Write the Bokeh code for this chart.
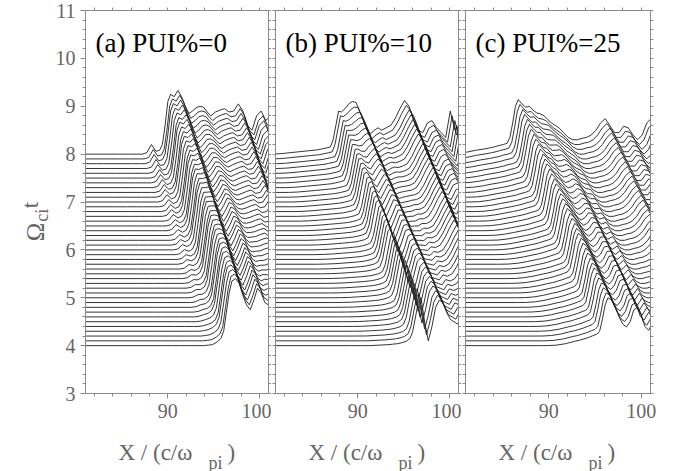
from bokeh.plotting import figure
from bokeh.layouts import row, column
from bokeh.models import FixedTicker, LinearAxis, Label, Range1d
from bokeh.embed import file_html
from bokeh.resources import INLINE
import math

# ---- data ----
times = [4.0, 4.1, 4.2, 4.3, 4.4, 4.5, 4.6, 4.7, 4.8, 4.9, 5.0, 5.1, 5.2, 5.3, 5.4,
         5.5, 5.6, 5.7, 5.8, 5.9, 6.0, 6.1, 6.2, 6.3, 6.4, 6.5, 6.6, 6.7, 6.8, 6.9,
         7.0, 7.1, 7.2, 7.3, 7.4, 7.5, 7.6, 7.7, 7.8, 7.9, 8.0]

# offsets from the shock ramp (c/omega_pi)
dx = [-40, -7, -6, -5, -4, -3, -2.5, -2, -1.5, -1, -0.6, -0.3, 0, 0.3, 0.6, 1.0,
      1.4, 1.8, 2.2, 2.6, 3.0, 3.4, 3.8, 4.2, 4.6, 5.0, 5.5, 6.0, 6.5, 7.0, 7.5,
      8.0, 8.5, 9.0, 9.5, 10.0, 10.5, 11.0, 11.5, 12.0, 12.5, 13.0, 13.5, 14.0,
      14.5, 15.0, 16.0]

# (a) PUI%=0
a_shock = [96.4, 96.3, 96.1, 95.9, 95.8, 95.6, 95.4, 95.3, 95.1, 95.0,
           94.8, 94.6, 94.5, 94.3, 94.1, 94.0, 93.8, 93.6, 93.5, 93.3,
           93.1, 92.9, 92.8, 92.6, 92.4, 92.3, 92.1, 91.9, 91.8, 91.6,
           91.4, 91.2, 91.1, 90.9, 90.7, 90.6, 90.4, 90.2, 90.0, 89.9, 89.7]
a_early = [0, 0, 0, 0, 0, 0, 0, 0.01, 0.02, 0.08, 0.15, 0.3,
           0.7, 1.1, 1.35, 1.4, 1.3, 1.05, 0.85, 0.75, 0.95, 1.2, 1.1, 0.9,
           0.85, 0.9, 0.88, 0.92, 0.95, 0.88, 0.9, 1.05, 0.9, 0.6, 0.5, 0.8,
           0.9, 0.7, 0.8, 0.85, 0.8, 0.8, 0.8, 0.8, 0.8, 0.8, 0.8]
a_late = [0, 0, 0, 0, 0, 0, 0, 0.03, 0.2, 0.06, 0.08, 0.2,
          0.6, 1.1, 1.25, 1.2, 1.33, 1.2, 1.0, 0.85, 0.9, 0.97, 1.0, 0.98,
          0.88, 0.8, 0.88, 0.92, 0.95, 0.88, 0.9, 1.05, 0.9, 0.6, 0.5, 0.8,
          0.9, 0.7, 0.8, 0.85, 0.8, 0.8, 0.8, 0.8, 0.8, 0.8, 0.8]

# (b) PUI%=10
b_shock = [96.3, 96.1, 95.9, 95.6, 95.4, 95.2, 95.0, 94.8, 94.6, 94.3,
           94.1, 93.9, 93.7, 93.5, 93.3, 93.0, 92.8, 92.6, 92.4, 92.2,
           92.0, 91.7, 91.5, 91.3, 91.1, 90.9, 90.7, 90.4, 90.2, 90.0,
           89.8, 89.6, 89.4, 89.1, 88.9, 88.7, 88.5, 88.3, 88.1, 87.8, 87.6]
b_early = [0, 0, 0, 0, 0.01, 0.02, 0.03, 0.04, 0.06, 0.09, 0.15, 0.3,
           0.6, 0.9, 1.0, 0.5, 0.1, 0.4, 0.8, 0.95, 0.9, 0.7, 0.55, 0.5,
           0.45, 0.6, 0.55, 0.6, 0.75, 0.95, 1.12, 1.0, 0.7, 0.5, 0.45, 0.65,
           0.7, 0.55, 0.45, 0.35, 0.9, 0.5, 0.6, 0.6, 0.6, 0.6, 0.6]
b_late = [0, 0, 0.01, 0.03, 0.05, 0.07, 0.08, 0.09, 0.11, 0.13, 0.15, 0.3,
          0.6, 0.9, 0.88, 0.95, 1.05, 1.1, 1.08, 0.9, 0.7, 0.5, 0.43, 0.5,
          0.55, 0.5, 0.55, 0.6, 0.75, 0.95, 1.12, 1.0, 0.7, 0.5, 0.45, 0.65,
          0.7, 0.55, 0.45, 0.35, 0.9, 0.5, 0.6, 0.6, 0.6, 0.6, 0.6]

# (c) PUI%=25
c_shock = [95.8, 95.6, 95.3, 95.1, 94.8, 94.6, 94.3, 94.1, 93.9, 93.6,
           93.4, 93.1, 92.9, 92.6, 92.4, 92.2, 91.9, 91.7, 91.4, 91.2,
           90.9, 90.7, 90.5, 90.2, 90.0, 89.7, 89.5, 89.2, 89.0, 88.8,
           88.5, 88.3, 88.0, 87.8, 87.5, 87.3, 87.1, 86.8, 86.6, 86.3, 86.1]
c_early = [0, 0, 0, 0.01, 0.04, 0.09, 0.11, 0.14, 0.17, 0.21, 0.24, 0.3,
           0.55, 0.85, 1.0, 0.95, 0.8, 0.6, 0.45, 0.39, 0.5, 0.75, 0.8, 0.65,
           0.4, 0.32, 0.5, 0.35, 0.3, 0.3, 0.33, 0.35, 0.4, 0.5, 0.65, 0.74,
           0.6, 0.45, 0.45, 0.58, 0.55, 0.4, 0.3, 0.4, 0.65, 0.75, 0.7]
c_late = [0, 0, 0.01, 0.04, 0.08, 0.11, 0.13, 0.15, 0.18, 0.2, 0.23, 0.35,
          0.65, 1.0, 1.14, 1.05, 0.98, 1.0, 0.92, 0.86, 0.84, 0.8, 0.72, 0.65,
          0.6, 0.55, 0.45, 0.35, 0.3, 0.3, 0.33, 0.35, 0.4, 0.5, 0.65, 0.74,
          0.6, 0.45, 0.45, 0.58, 0.55, 0.4, 0.3, 0.4, 0.65, 0.75, 0.7]

titles = ["(a) PUI%=0", "(b) PUI%=10", "(c) PUI%=25"]
x_major = [90, 100]
x_minor = [82, 84, 86, 88, 92, 94, 96, 98]
y_major = [3, 4, 5, 6, 7, 8, 9, 10, 11]
y_minor = [round(3 + 0.2 * k, 1) for k in range(41) if k % 5 != 0]

FONT = "Liberation Serif"
AXC = "#8a8a8a"
TXT = "#666666"

# layout (pixels)
YSTRIP_W = 50
TOP_H = 428
XSTRIP_H = 43
FRAME_H = 383
frame_left = [85, 275, 465]


def build(shock, early, late):
    xs, ys = [], []
    t0, t1 = times[0], times[-1]
    for t, s in zip(times, shock):
        w = (t - t0) / (t1 - t0)
        xs.append([s + d for d in dx])
        ys.append([t + (1 - w) * e + w * l for e, l in zip(early, late)])
    return xs, ys


def base_axis(ax):
    ax.axis_line_color = AXC
    ax.major_tick_line_color = AXC
    ax.minor_tick_line_color = AXC
    ax.major_tick_in = 0
    ax.minor_tick_in = 0


def labelled_axis(ticker):
    ax = LinearAxis(ticker=ticker)
    base_axis(ax)
    ax.major_tick_out = 5
    ax.minor_tick_out = 3
    ax.major_label_text_font = FONT
    ax.major_label_text_font_size = "20px"
    ax.major_label_text_color = TXT
    ax.major_label_standoff = 5
    return ax


def tick_axis(major, minor, length):
    # ticks only: everything as minor ticks, so no labels are produced
    ax = LinearAxis(ticker=FixedTicker(ticks=[], minor_ticks=sorted(major + minor)))
    base_axis(ax)
    ax.major_tick_out = 0
    ax.minor_tick_out = length
    return ax


def panel(idx, shock, early, late, fw, bl, br):
    p = figure(frame_width=fw, frame_height=FRAME_H,
               x_range=Range1d(81, 101), y_range=Range1d(3, 11),
               x_axis_location=None, y_axis_location=None,
               output_backend="svg", toolbar_location=None,
               min_border_left=bl, min_border_right=br,
               min_border_top=10, min_border_bottom=TOP_H - FRAME_H - 10)
    p.grid.visible = False
    p.outline_line_color = AXC
    p.background_fill_color = "white"
    p.border_fill_color = "white"

    p.add_layout(labelled_axis(FixedTicker(ticks=x_major, minor_ticks=x_minor)), "below")
    p.add_layout(tick_axis(x_major, x_minor, 3), "above")
    if idx == 0:
        p.add_layout(labelled_axis(FixedTicker(ticks=y_major, minor_ticks=y_minor)), "left")
    else:
        p.add_layout(tick_axis(y_major, y_minor, 3), "left")
    p.add_layout(tick_axis(y_major, y_minor, 3), "right")

    xs, ys = build(shock, early, late)
    p.multi_line(xs, ys, line_color="#1e1e1e", line_width=0.9)

    p.add_layout(Label(x=10, y=351, x_units="screen", y_units="screen",
                       text=titles[idx], text_font=FONT, text_font_size="27px",
                       text_color="black", text_baseline="alphabetic"))
    return p


pa = panel(0, a_shock, a_early, a_late, 183, 35, 3)
pb = panel(1, b_shock, b_early, b_late, 183, 4, 3)
pc = panel(2, c_shock, c_early, c_late, 185, 4, 30)

# strip left of panel (a): y-axis title  Omega_ci t
ys_fig = figure(width=YSTRIP_W, height=TOP_H, x_range=Range1d(0, YSTRIP_W),
                y_range=Range1d(0, TOP_H), x_axis_location=None, y_axis_location=None,
                output_backend="svg", toolbar_location=None, min_border=0)
ys_fig.grid.visible = False
ys_fig.outline_line_color = None
ys_fig.add_layout(Label(x=35, y=TOP_H - 258, text="Ω", text_font=FONT,
                        text_font_size="25px", text_color=TXT,
                        text_baseline="alphabetic", angle=math.pi / 2))
ys_fig.add_layout(Label(x=41, y=TOP_H - 236, text="ci", text_font=FONT,
                        text_font_size="18px", text_color=TXT,
                        text_baseline="alphabetic", angle=math.pi / 2))
ys_fig.add_layout(Label(x=30, y=TOP_H - 221, text="t", text_font=FONT,
                        text_font_size="23px", text_color=TXT,
                        text_baseline="alphabetic", angle=math.pi / 2))

# strip below the panels: x-axis titles  X / (c/omega_pi)
W = 680
xs_fig = figure(width=W, height=XSTRIP_H, x_range=Range1d(0, W),
                y_range=Range1d(0, XSTRIP_H), x_axis_location=None, y_axis_location=None,
                output_backend="svg", toolbar_location=None, min_border=0)
xs_fig.grid.visible = False
xs_fig.outline_line_color = None
for fl in frame_left:
    xs_fig.add_layout(Label(x=fl + 33, y=471 - 452, text="X / (c/ω", text_font=FONT,
                            text_font_size="23px", text_color=TXT,
                            text_baseline="alphabetic"))
    xs_fig.add_layout(Label(x=fl + 123, y=471 - 462, text="pi", text_font=FONT,
                            text_font_size="18px", text_color=TXT,
                            text_baseline="alphabetic"))
    xs_fig.add_layout(Label(x=fl + 142, y=471 - 452, text=")", text_font=FONT,
                            text_font_size="23px", text_color=TXT,
                            text_baseline="alphabetic"))

layout = column(row(ys_fig, pa, pb, pc), xs_fig)
open("out.html", "w").write(file_html(layout, INLINE))
